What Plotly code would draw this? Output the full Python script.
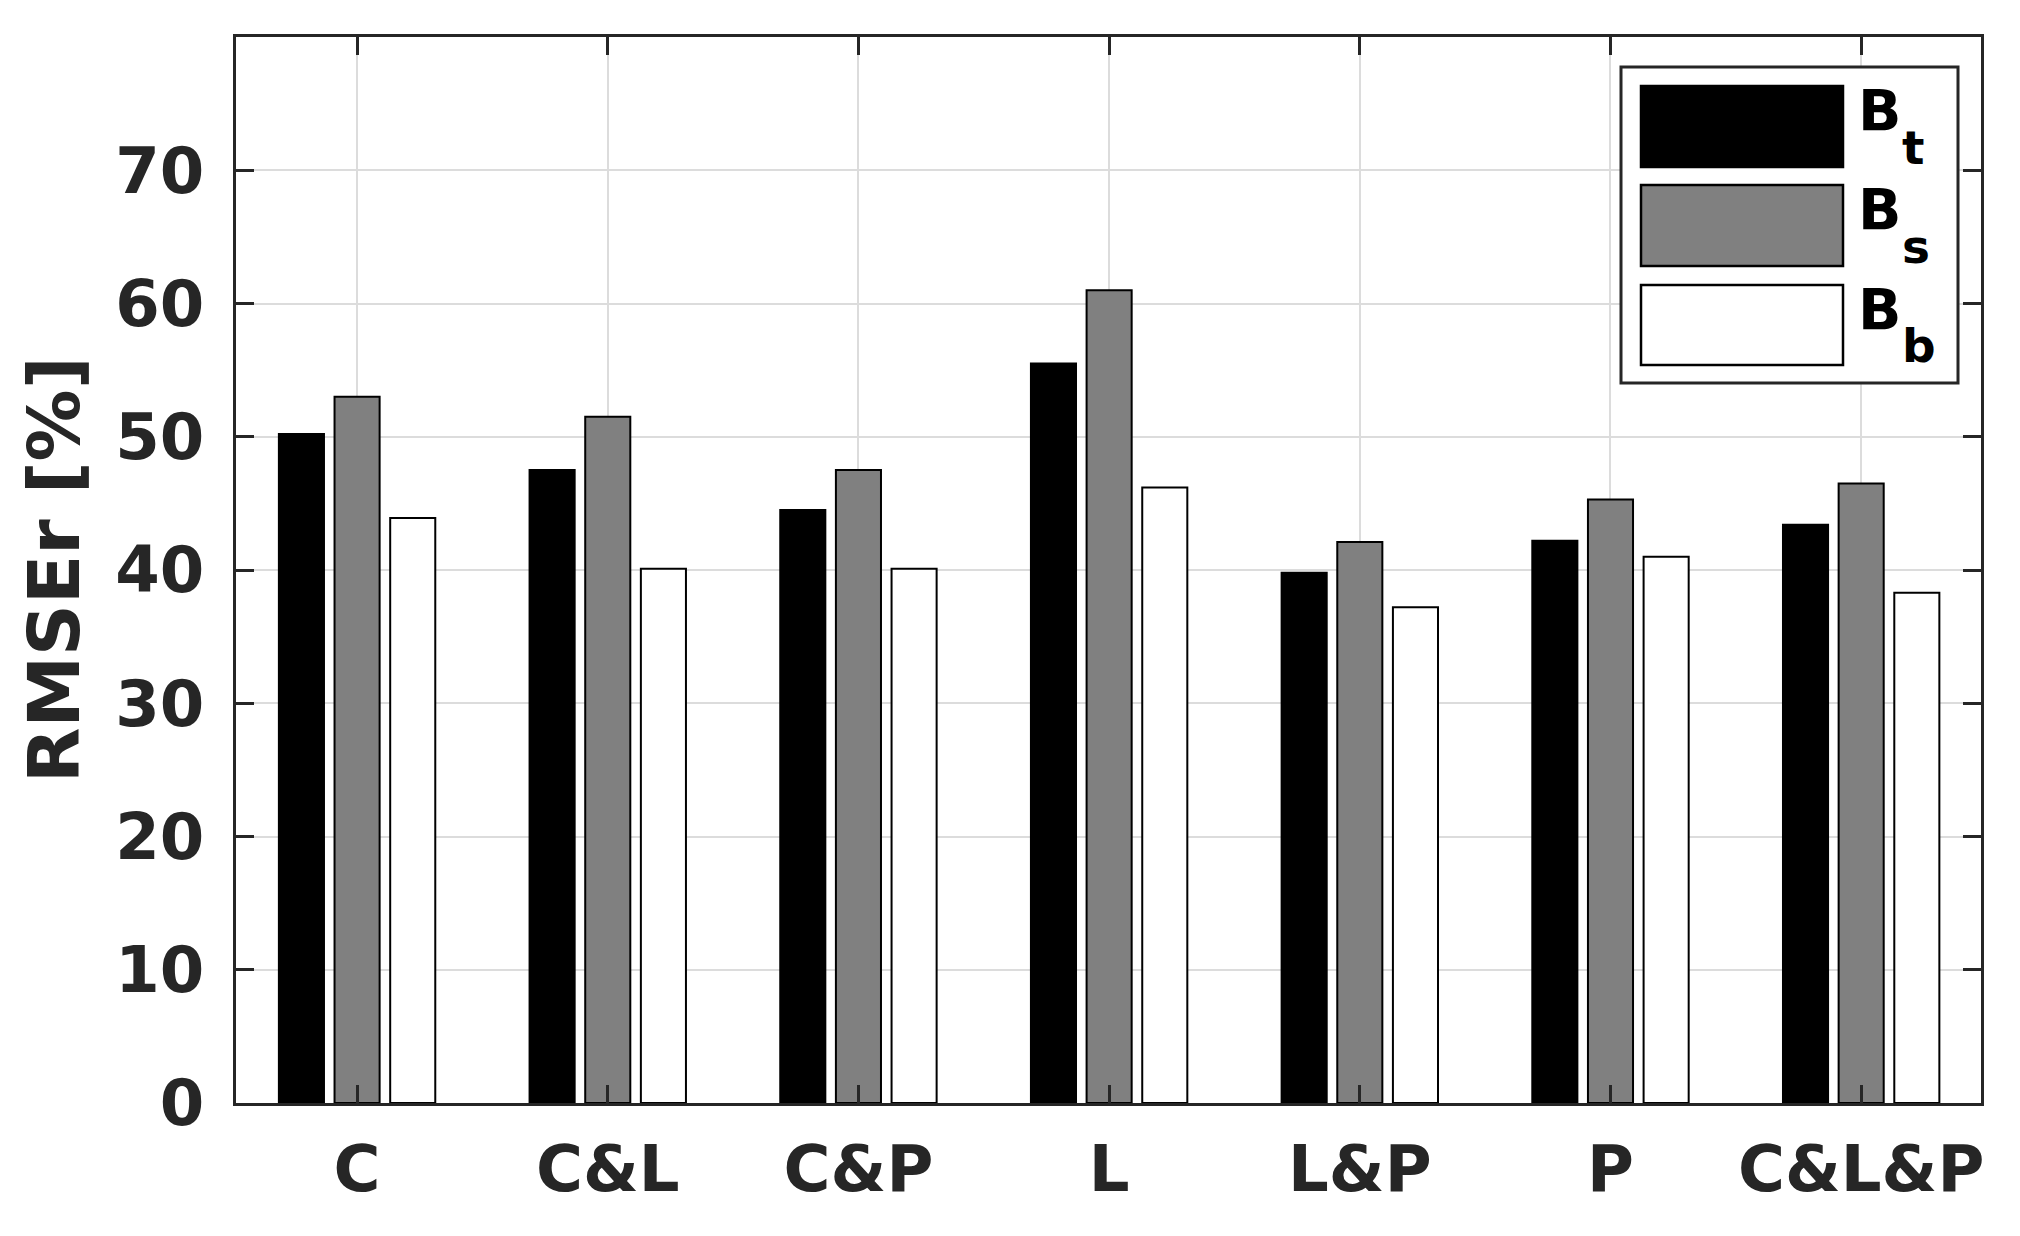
import plotly.graph_objects as go

categories = ["C", "C&L", "C&P", "L", "L&P", "P", "C&L&P"]
series_main = ["B", "B", "B"]
series_sub = ["t", "s", "b"]
bt_values = [50.2, 47.5, 44.5, 55.5, 39.8, 42.2, 43.4]
bs_values = [53.0, 51.5, 47.5, 61.0, 42.1, 45.3, 46.5]
bb_values = [43.9, 40.1, 40.1, 46.2, 37.2, 41.0, 38.3]
y_ticks = [0, 10, 20, 30, 40, 50, 60, 70]

colors = ["#000000", "#808080", "#ffffff"]
TXT = "#262626"
FONT = "DejaVu Sans"

W, H = 2020, 1236
L, R, T, B = 236, 39, 37, 133

fig = go.Figure()
for m, s, vals, col in zip(series_main, series_sub, [bt_values, bs_values, bb_values], colors):
    fig.add_trace(go.Bar(
        x=categories, y=vals, name=f"{m}<sub>{s}</sub>",
        marker=dict(color=col, line=dict(color="#000000", width=2)),
        showlegend=False,
    ))

def px2paper_x(px):
    return (px - L) / (W - L - R)

def px2paper_y(py):
    return (H - B - py) / (H - T - B)

shapes = []
annotations = []
# legend box
shapes.append(dict(type="rect", xref="paper", yref="paper",
                   x0=px2paper_x(1621), x1=px2paper_x(1958),
                   y0=px2paper_y(383), y1=px2paper_y(67),
                   line=dict(color=TXT, width=3), fillcolor="#ffffff", layer="above"))
rows = [(86, 167), (185, 266), (285, 365)]
for i, ((top, bot), col, m, s) in enumerate(zip(rows, colors, series_main, series_sub)):
    shapes.append(dict(type="rect", xref="paper", yref="paper",
                       x0=px2paper_x(1641), x1=px2paper_x(1843),
                       y0=px2paper_y(bot), y1=px2paper_y(top),
                       line=dict(color="#000000", width=2.5), fillcolor=col, layer="above"))
    annotations.append(dict(xref="paper", yref="paper",
                            x=px2paper_x(1856), y=px2paper_y(111 + 99.5 * i),
                            xanchor="left", yanchor="middle", showarrow=False,
                            text=f"<b>{m}</b>",
                            font=dict(family=FONT, size=57, color="#000000")))
    annotations.append(dict(xref="paper", yref="paper",
                            x=px2paper_x(1900), y=px2paper_y(147 + 99.5 * i),
                            xanchor="left", yanchor="middle", showarrow=False,
                            text=f"<b>{s}</b>",
                            font=dict(family=FONT, size=47, color="#000000")))

# y-axis title
annotations.append(dict(xref="paper", yref="paper", x=px2paper_x(54), y=0.5,
                        xanchor="center", yanchor="middle", showarrow=False,
                        textangle=-90, text="<b>RMSEr [%]</b>",
                        font=dict(family=FONT, size=72, color=TXT)))

fig.update_layout(
    width=W, height=H,
    margin=dict(l=L, r=R, t=T, b=B, pad=0),
    paper_bgcolor="#ffffff", plot_bgcolor="#ffffff",
    barmode="group", bargap=0.334, bargroupgap=0.19,
    font=dict(family=FONT, color=TXT),
    shapes=shapes, annotations=annotations,
)
fig.update_xaxes(
    type="category", categoryorder="array", categoryarray=categories,
    range=[-0.483, len(categories) - 1 + 0.478],
    showline=True, linecolor=TXT, linewidth=3, mirror="ticks",
    ticks="inside", ticklen=18, tickwidth=3, tickcolor=TXT,
    showgrid=True, gridcolor="#dcdcdc", gridwidth=2,
    tickfont=dict(family=FONT, size=64, color=TXT, weight="bold"),
    ticklabelstandoff=8,
)
fig.update_yaxes(
    range=[0, 80], tickvals=y_ticks, ticktext=[str(v) for v in y_ticks],
    showline=True, linecolor=TXT, linewidth=3, mirror="ticks",
    ticks="inside", ticklen=18, tickwidth=3, tickcolor=TXT,
    showgrid=True, gridcolor="#dcdcdc", gridwidth=2, zeroline=False,
    tickfont=dict(family=FONT, size=64, color=TXT, weight="bold"),
    ticklabelstandoff=16,
)

fig.write_html("out.html", config={"displayModeBar": False},
               post_script="document.body.style.margin='0px';document.body.style.overflow='hidden';")
